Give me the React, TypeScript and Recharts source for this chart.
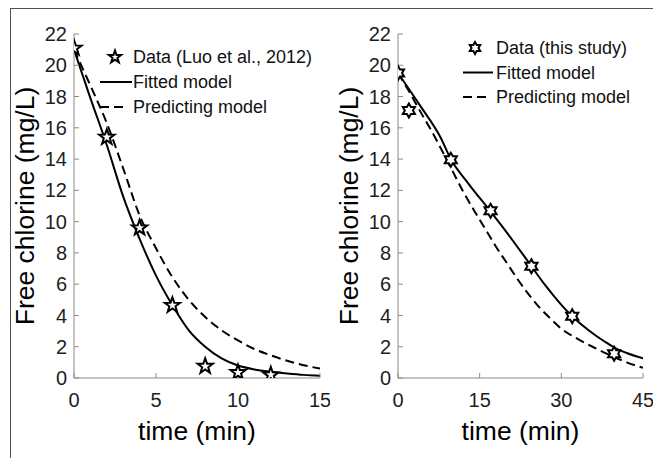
import React from "react";
import { ComposedChart, Line, Scatter, XAxis, YAxis, Label } from "recharts";

const FONT = '"Liberation Sans", Arial, sans-serif';
const AXIS_GRAY = "#8a8a8a";
const TICK_TEXT = "#1e1e1e";

// left panel - Luo et al., 2012
const luoTime = [0, 2, 4, 6, 8, 10, 12];
const luoChlorine = [21.1, 15.4, 9.6, 4.65, 0.75, 0.35, 0.2];
const luoModelTime = [0, 1, 2, 3, 4, 5, 6, 7, 8, 9, 10, 11, 12, 13, 14, 15];
const luoFitted = [21.0, 17.9, 14.9, 11.6, 8.9, 6.55, 4.65, 3.05, 2.0, 1.25, 0.8, 0.55, 0.4, 0.29, 0.2, 0.15];
const luoPredicted = [21.0, 18.7, 16.3, 13.4, 10.4, 8.3, 6.45, 5.0, 3.9, 3.05, 2.4, 1.85, 1.45, 1.1, 0.82, 0.6];

// right panel - this study
const studyTime = [0, 2, 9.7, 17, 24.5, 32, 39.7];
const studyChlorine = [19.5, 17.1, 13.95, 10.7, 7.15, 3.95, 1.55];
const studyFitTime = [0, 4, 7.8, 9.7, 13, 17, 20, 24.5, 27, 30, 32, 35, 38, 40, 42, 45];
const studyFitted = [19.5, 17.45, 15.4, 14.0, 12.4, 10.65, 9.3, 7.15, 5.95, 4.68, 3.95, 3.05, 2.32, 1.9, 1.6, 1.26];
const studyPredTime = [0, 2, 4, 6, 8, 10, 12, 14, 16, 18, 20, 22, 24, 26, 28, 30, 33, 36, 39, 42, 45];
const studyPredicted = [19.5, 18.35, 17.1, 15.9, 14.6, 13.25, 11.9, 10.7, 9.55, 8.4, 7.35, 6.3, 5.35, 4.5, 3.8, 3.15, 2.5, 1.95, 1.45, 1.0, 0.65];

const yTicks = [0, 2, 4, 6, 8, 10, 12, 14, 16, 18, 20, 22];
const luoXTicks = [0, 5, 10, 15];
const studyXTicks = [0, 15, 30, 45];

const luoLegend = ["Data (Luo et al., 2012)", "Fitted model", "Predicting model"];
const studyLegend = ["Data (this study)", "Fitted model", "Predicting model"];

const toRows = (t: number[], c: number[]) => t.map((v, i) => ({ t: v, c: c[i] }));

function starPath(cx: number, cy: number, R: number, n: number, inner: number) {
  const pts: string[] = [];
  for (let i = 0; i < n * 2; i++) {
    const a = (-90 + (i * 180) / n) * (Math.PI / 180);
    const r = i % 2 === 0 ? R : R * inner;
    pts.push(`${(cx + r * Math.cos(a)).toFixed(2)},${(cy + r * Math.sin(a)).toFixed(2)}`);
  }
  return "M" + pts.join("L") + "Z";
}

const Pentagram = ({ cx, cy, r = 8 }: any) => (
  <path d={starPath(cx, cy, r, 5, 0.4)} fill="#fff" stroke="#000" strokeWidth={2} strokeLinejoin="miter" />
);

const Hexagram = ({ cx, cy, r = 7 }: any) => (
  <path d={starPath(cx, cy, r, 6, 0.577)} fill="#fff" stroke="#000" strokeWidth={2} strokeLinejoin="miter" />
);

function Panel({ left, width, xMax, xTicks, points, fitted, predicted, Marker }: any) {
  return (
    <div style={{ position: "absolute", left, top: 0 }}>
      <ComposedChart
        width={width}
        height={458}
        margin={{ top: 34, right: 10, bottom: 0, left: 0 }}
        style={{ fontFamily: FONT }}
      >
        <XAxis
          dataKey="t"
          type="number"
          domain={[0, xMax]}
          ticks={xTicks}
          allowDataOverflow
          height={80}
          stroke={AXIS_GRAY}
          tickSize={-5}
          tickMargin={20}
          tick={{ fill: TICK_TEXT, fontSize: 20, fontFamily: FONT }}
        >
          <Label
            value="time (min)"
            position="insideBottom"
            offset={18}
            style={{ fontSize: 26.5, fill: "#000", fontFamily: FONT }}
          />
        </XAxis>
        <XAxis
          xAxisId="top"
          orientation="top"
          dataKey="t"
          type="number"
          domain={[0, xMax]}
          ticks={xTicks}
          allowDataOverflow
          height={0}
          stroke={AXIS_GRAY}
          tickSize={-5}
          tick={false}
        />
        <YAxis
          dataKey="c"
          type="number"
          domain={[0, 22]}
          ticks={yTicks}
          allowDataOverflow
          width={74}
          stroke={AXIS_GRAY}
          tickSize={-5}
          tickMargin={12}
          tick={{ fill: TICK_TEXT, fontSize: 20, fontFamily: FONT }}
        >
          <Label
            value="Free chlorine (mg/L)"
            angle={-90}
            position="insideLeft"
            offset={25}
            style={{ fontSize: 26.5, fill: "#000", textAnchor: "middle", fontFamily: FONT }}
          />
        </YAxis>
        <YAxis
          yAxisId="r"
          orientation="right"
          dataKey="c"
          type="number"
          domain={[0, 22]}
          ticks={yTicks}
          allowDataOverflow
          width={0}
          stroke={AXIS_GRAY}
          tickSize={-5}
          tick={false}
        />
        <Line
          data={predicted}
          dataKey="c"
          type="monotone"
          stroke="#000"
          strokeWidth={2}
          strokeDasharray="9 5"
          dot={false}
          activeDot={false}
          isAnimationActive={false}
        />
        <Line
          data={fitted}
          dataKey="c"
          type="monotone"
          stroke="#000"
          strokeWidth={2}
          dot={false}
          activeDot={false}
          isAnimationActive={false}
        />
        <Scatter
          data={points}
          dataKey="c"
          shape={(p: any) => <Marker cx={p.cx} cy={p.cy} />}
          isAnimationActive={false}
        />
      </ComposedChart>
    </div>
  );
}

function LegendBlock({ labels, lineX0, lineX1, markerX, textX, y0, gap, Marker, markerR, dashLen }: any) {
  const rows = [0, 1, 2];
  return (
    <>
      <svg style={{ position: "absolute", left: 0, top: 0 }} width={653} height={140}>
        <Marker cx={markerX} cy={y0} r={markerR} />
        <line x1={lineX0} x2={lineX1} y1={y0 + gap} y2={y0 + gap} stroke="#000" strokeWidth={2} />
        <line x1={lineX0} x2={lineX0 + dashLen} y1={y0 + gap * 2} y2={y0 + gap * 2} stroke="#000" strokeWidth={2} strokeDasharray="9 5" />
      </svg>
      {rows.map((i) => (
        <div
          key={i}
          style={{
            position: "absolute",
            left: textX,
            top: y0 + gap * i - 11,
            height: 22,
            lineHeight: "22px",
            fontSize: 18,
            color: "#111",
            whiteSpace: "nowrap",
            fontFamily: FONT,
          }}
        >
          {labels[i]}
        </div>
      ))}
    </>
  );
}

export default function App() {
  return (
    <div
      style={{
        position: "absolute",
        left: 0,
        top: 0,
        width: 653,
        height: 458,
        background: "#fff",
        overflow: "hidden",
        fontFamily: FONT,
      }}
    >
      {/* outer frame */}
      <div
        style={{
          position: "absolute",
          left: 10,
          top: 8,
          width: 660,
          height: 470,
          borderTop: "1.5px solid #505050",
          borderLeft: "1.5px solid #505050",
        }}
      />
      <Panel
        left={0}
        width={330}
        xMax={15}
        xTicks={luoXTicks}
        points={toRows(luoTime, luoChlorine)}
        fitted={toRows(luoModelTime, luoFitted)}
        predicted={toRows(luoModelTime, luoPredicted)}
        Marker={Pentagram}
      />
      <Panel
        left={324}
        width={329}
        xMax={45}
        xTicks={studyXTicks}
        points={toRows(studyTime, studyChlorine)}
        fitted={toRows(studyFitTime, studyFitted)}
        predicted={toRows(studyPredTime, studyPredicted)}
        Marker={Hexagram}
      />
      <LegendBlock
        labels={luoLegend}
        lineX0={100}
        lineX1={132}
        markerX={115}
        textX={133}
        y0={57}
        gap={25}
        Marker={Pentagram}
        markerR={6.5}
        dashLen={23}
      />
      <LegendBlock
        labels={studyLegend}
        lineX0={463}
        lineX1={493}
        markerX={475}
        textX={496}
        y0={48}
        gap={24.5}
        Marker={Hexagram}
        markerR={6}
        dashLen={23}
      />
    </div>
  );
}
